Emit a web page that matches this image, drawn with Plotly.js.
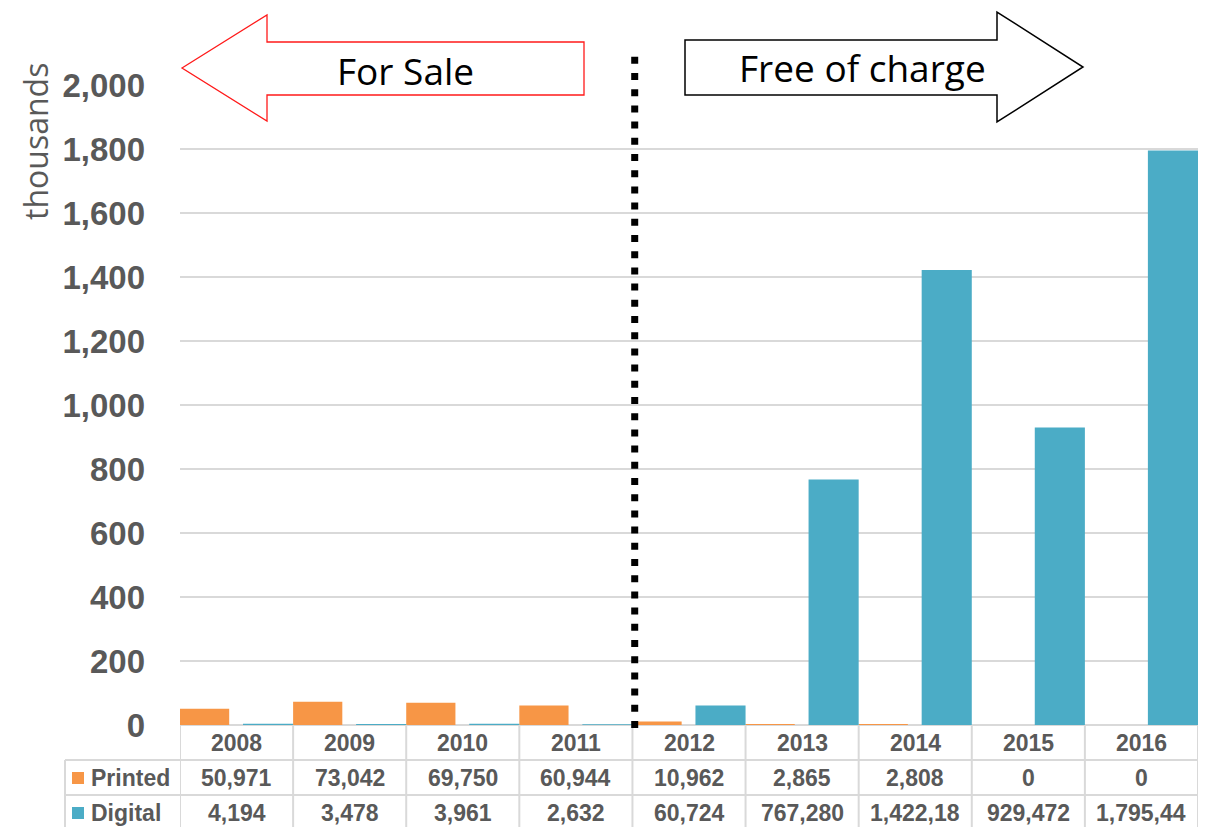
<!DOCTYPE html>
<html>
<head>
<meta charset="utf-8">
<script src="https://cdn.plot.ly/plotly-3.0.1.min.js"></script>
<style>html,body{margin:0;padding:0;background:#fff;}#chart{width:1208px;height:827px;}</style>
</head>
<body>
<div id="chart"></div>
<script>
// ---- data ----
const years = ['2008','2009','2010','2011','2012','2013','2014','2015','2016'];
const printed = [50971, 73042, 69750, 60944, 10962, 2865, 2808, 0, 0];
const digital = [4194, 3478, 3961, 2632, 60724, 767280, 1422180, 929472, 1795440];
const yTicks = [0, 200, 400, 600, 800, 1000, 1200, 1400, 1600, 1800, 2000];
const seriesNames = ['Printed', 'Digital'];
const seriesColors = ['#F79646', '#4BACC6'];
const leftLabel = 'For Sale';
const rightLabel = 'Free of charge';
const yTitle = 'thousands';

// ---- layout helpers (pixel -> paper) ----
const W = 1208, H = 827, L = 180, R = 1198, T = 85, B = 725;
const px = x => (x - L) / (R - L);
const py = y => (B - y) / (B - T);
const gray = '#595959', lineGray = '#d9d9d9';
const boldFont = (size) => ({family: 'Liberation Sans, Arial, sans-serif', size: size, color: gray, weight: 'bold'});
const fmt = v => v.toLocaleString('en-US').slice(0, 8);

const traces = [
  {type: 'bar', name: seriesNames[0], x: years, y: printed.map(v => v / 1000),
   marker: {color: seriesColors[0]}, offset: -0.5, width: 0.435, hoverinfo: 'x+y'},
  {type: 'bar', name: seriesNames[1], x: years, y: digital.map(v => v / 1000),
   marker: {color: seriesColors[1]}, offset: 0.057, width: 0.443, hoverinfo: 'x+y'}
];

const shapes = [];
const annotations = [];

// table grid
const rowY = [725, 760, 795, 840];
shapes.push({type: 'line', xref: 'paper', yref: 'paper', x0: px(65), x1: 1, y0: py(rowY[1]), y1: py(rowY[1]), line: {color: lineGray, width: 2}});
shapes.push({type: 'line', xref: 'paper', yref: 'paper', x0: px(65), x1: 1, y0: py(rowY[2]), y1: py(rowY[2]), line: {color: lineGray, width: 2}});
shapes.push({type: 'line', xref: 'paper', yref: 'paper', x0: px(65), x1: px(65), y0: py(rowY[1]), y1: py(rowY[3]), line: {color: lineGray, width: 2}});
for (let i = 0; i <= years.length; i++) {
  shapes.push({type: 'line', xref: 'x', yref: 'paper', x0: i - 0.5, x1: i - 0.5, y0: 0, y1: py(rowY[3]), line: {color: lineGray, width: 2}});
}
// table text
years.forEach((yr, i) => {
  annotations.push({xref: 'x', yref: 'paper', x: i, y: py(743), text: yr, showarrow: false, font: boldFont(23), xanchor: 'center', yanchor: 'middle'});
  annotations.push({xref: 'x', yref: 'paper', x: i, y: py(778), text: fmt(printed[i]), showarrow: false, font: boldFont(23), xanchor: 'center', yanchor: 'middle'});
  annotations.push({xref: 'x', yref: 'paper', x: i, y: py(813), text: fmt(digital[i]), showarrow: false, font: boldFont(23), xanchor: 'center', yanchor: 'middle'});
});
// row labels with legend keys
[[seriesNames[0], 778], [seriesNames[1], 813]].forEach(([name, yy], k) => {
  shapes.push({type: 'rect', xref: 'paper', yref: 'paper', x0: px(72), x1: px(84), y0: py(yy - 6), y1: py(yy + 6), fillcolor: seriesColors[k], line: {width: 0}});
  annotations.push({xref: 'paper', yref: 'paper', x: px(89), y: py(yy), text: name, showarrow: false, font: boldFont(23), xanchor: 'left', yanchor: 'middle'});
});

// dotted divider
shapes.push({type: 'line', xref: 'x', yref: 'paper', x0: 3.52, x1: 3.52, y0: py(728), y1: py(54),
  line: {color: '#000', width: 7, dash: '7px,9.2px'}});

// arrows
const pathFrom = pts => 'M ' + pts.map(p => px(p[0]) + ',' + py(p[1])).join(' L ') + ' Z';
shapes.push({type: 'path', xref: 'paper', yref: 'paper', layer: 'above',
  path: pathFrom([[182, 68], [267, 15], [267, 42], [584, 42], [584, 95], [267, 95], [267, 121]]),
  fillcolor: '#fff', line: {color: '#ff1a1a', width: 1.3}});
shapes.push({type: 'path', xref: 'paper', yref: 'paper', layer: 'above',
  path: pathFrom([[685, 40], [997, 40], [997, 12], [1083, 67], [997, 122], [997, 95], [685, 95]]),
  fillcolor: '#fff', line: {color: '#000', width: 1.5}});
annotations.push({xref: 'paper', yref: 'paper', x: px(405), y: py(70), text: leftLabel, showarrow: false,
  font: {family: 'Open Sans, Noto Sans, sans-serif', size: 37, color: '#000'}, xanchor: 'center', yanchor: 'middle'});
annotations.push({xref: 'paper', yref: 'paper', x: px(862), y: py(68), text: rightLabel, showarrow: false,
  font: {family: 'Open Sans, Noto Sans, sans-serif', size: 37, color: '#000'}, xanchor: 'center', yanchor: 'middle'});
// y title
annotations.push({xref: 'paper', yref: 'paper', x: px(35), y: py(142), text: yTitle, textangle: -90, showarrow: false,
  font: {family: 'Open Sans, Noto Sans, sans-serif', size: 32, color: gray}, xanchor: 'center', yanchor: 'middle'});

const layout = {
  width: W, height: H,
  margin: {l: L, r: W - R, t: T, b: H - B, pad: 0},
  paper_bgcolor: '#fff', plot_bgcolor: '#fff',
  showlegend: false,
  barmode: 'overlay',
  xaxis: {type: 'category', categoryarray: years, range: [-0.5, years.length - 0.5], showticklabels: false,
    showgrid: false, zeroline: false, showline: false, ticks: ''},
  yaxis: {range: [0, 2000], tickvals: yTicks, tickformat: ',d', tickfont: boldFont(33),
    ticklabelstandoff: 34, showgrid: true, gridcolor: lineGray, gridwidth: 2,
    zeroline: true, zerolinecolor: lineGray, zerolinewidth: 2, showline: false, ticks: ''},
  shapes: shapes,
  annotations: annotations
};

Plotly.newPlot('chart', traces, layout, {displayModeBar: false, staticPlot: true});
</script>
</body>
</html>
